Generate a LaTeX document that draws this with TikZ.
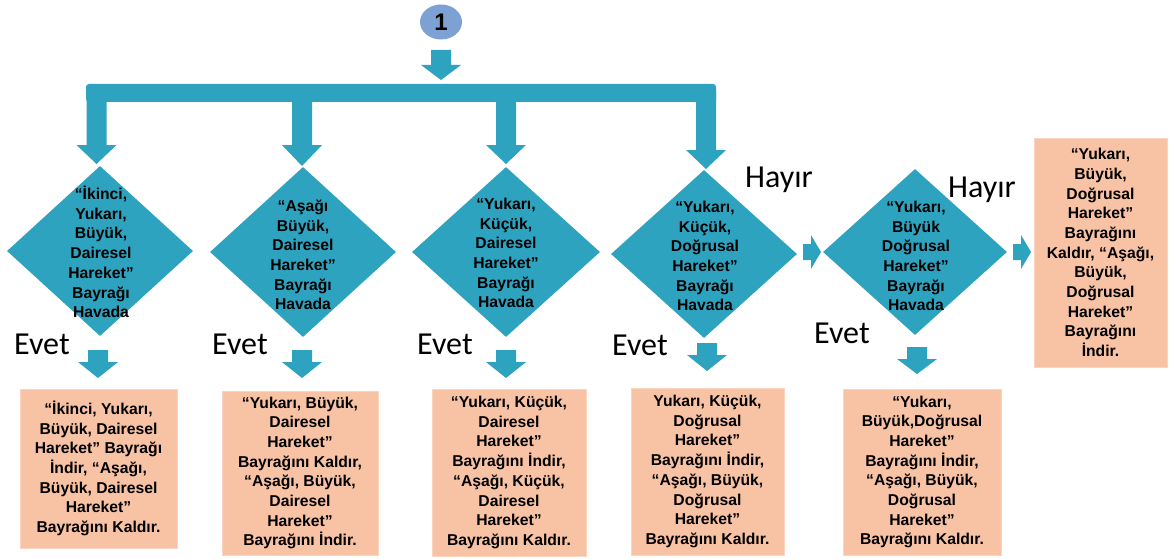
\documentclass[tikz,border=0pt]{standalone}
\usepackage{fontspec}
\setmainfont{Liberation Sans}
\newfontfamily\evfont{Carlito}
\usetikzlibrary{shapes.geometric}
\definecolor{teal}{RGB}{46,163,192}
\definecolor{peach}{RGB}{248,194,164}
\definecolor{circ}{RGB}{124,161,210}
\newcommand\DArr[4]{% x, ytop, yhead, ytip
  \fill[teal] ({#1-10},#2) -- ({#1+10},#2) -- ({#1+10},#3) -- ({#1+20},#3) -- (#1,#4) -- ({#1-20},#3) -- ({#1-10},#3) -- cycle;}
\newcommand\RArr[4]{% xleft, xhead, xtip, ycenter
  \fill[teal] (#1,{#4-8}) -- (#2,{#4-8}) -- (#2,{#4-17}) -- (#3,#4) -- (#2,{#4+17}) -- (#2,{#4+8}) -- (#1,{#4+8}) -- cycle;}
\tikzset{
  dia/.style={diamond, fill=teal, inner sep=0pt, minimum width=186pt, minimum height=170pt},
  dtext/.style={align=center, inner sep=0pt, font=\fontsize{15.7}{19.7}\selectfont\bfseries},
  box/.style={rectangle, fill=peach, draw=peach!70!white, line width=0.8pt, align=center, inner sep=0pt,
    font=\fontsize{15.7}{19.7}\selectfont\bfseries},
  lab/.style={anchor=base west, inner sep=0pt, font=\evfont\fontsize{32}{32}\selectfont},
}
\begin{document}
\begin{tikzpicture}[x=1pt,y=-1pt]
\useasboundingbox (0,0) rectangle (1169,559);
\fill[white] (0,0) rectangle (1169,559);

% start node
\node[ellipse, fill=circ, minimum width=42pt, minimum height=35pt, inner sep=0pt] (one) at (441,22)
  {\fontsize{24}{24}\selectfont\bfseries 1};
\DArr{441}{50}{65}{80}

% distribution bar
\fill[teal, rounded corners=3pt] (86,84) rectangle (716,102);
\DArr{96.5}{92}{145}{164}
\DArr{302}{98}{145}{166}
\DArr{506}{98}{145}{164}
\DArr{706}{92}{150}{169}

% decisions
\node[dia] (d1) at (100,251) {};
\node[dia] (d2) at (303,252) {};
\node[dia, minimum width=188pt] (d3) at (506,252) {};
\node[dia, minimum height=168pt] (d4) at (704,254) {};
\node[dia, minimum width=184pt, minimum height=166pt] (d5) at (915,252) {};

\node[dtext] (t1) at (101,252) {“İkinci,\\Yukarı,\\Büyük,\\Dairesel\\Hareket”\\Bayrağı\\Havada};
\node[dtext] (t2) at (303,255) {“Aşağı\\Büyük,\\Dairesel\\Hareket”\\Bayrağı\\Havada};
\node[dtext] (t3) at (506,253) {“Yukarı,\\Küçük,\\Dairesel\\Hareket”\\Bayrağı\\Havada};
\node[dtext] (t4) at (705,256) {“Yukarı,\\Küçük,\\Doğrusal\\Hareket”\\Bayrağı\\Havada};
\node[dtext] (t5) at (916,256) {“Yukarı,\\Büyük\\Doğrusal\\Hareket”\\Bayrağı\\Havada};

% no-branches
\RArr{803}{811}{821}{252}
\RArr{1013}{1021}{1031}{252}
\node[lab] (h1) at (745,187) {Hayır};
\node[lab] (h2) at (948,197) {Hayır};

% yes-branches
\node[lab] (e1) at (14,354) {Evet};
\node[lab] (e2) at (212,354) {Evet};
\node[lab] (e3) at (417,354) {Evet};
\node[lab] (e4) at (612,355) {Evet};
\node[lab] (e5) at (814,343) {Evet};
\DArr{98}{350}{362}{378}
\DArr{302}{350}{362}{378}
\DArr{506}{350}{362}{378}
\DArr{707}{343}{355}{371}
\DArr{917}{347}{359}{374}

% actions
\node[box, minimum width=157pt, minimum height=159pt] (b1) at (98.5,468.5)
  {“İkinci, Yukarı,\\Büyük, Dairesel\\Hareket” Bayrağı\\İndir, “Aşağı,\\Büyük, Dairesel\\Hareket”\\Bayrağını Kaldır.};
\node[box, minimum width=156pt, minimum height=164pt] (b2) at (300,473)
  {“Yukarı, Büyük,\\Dairesel\\Hareket”\\Bayrağını Kaldır,\\“Aşağı, Büyük,\\Dairesel\\Hareket”\\Bayrağını İndir.};
\node[box, minimum width=154pt, minimum height=167pt] (b3) at (509,472.5)
  {“Yukarı, Küçük,\\Dairesel\\Hareket”\\Bayrağını İndir,\\“Aşağı, Küçük,\\Dairesel\\Hareket”\\Bayrağını Kaldır.};
\node[box, minimum width=153pt, minimum height=167pt] (b4) at (707.5,471.5)
  {Yukarı, Küçük,\\Doğrusal\\Hareket”\\Bayrağını İndir,\\“Aşağı, Büyük,\\Doğrusal\\Hareket”\\Bayrağını Kaldır.};
\node[box, minimum width=158pt, minimum height=166pt] (b5) at (922,472)
  {“Yukarı,\\Büyük,Doğrusal\\Hareket”\\Bayrağını İndir,\\“Aşağı, Büyük,\\Doğrusal\\Hareket”\\Bayrağını Kaldır.};
\node[box, minimum width=133pt, minimum height=229pt] (b6) at (1100.5,252.5)
  {“Yukarı,\\Büyük,\\Doğrusal\\Hareket”\\Bayrağını\\Kaldır, “Aşağı,\\Büyük,\\Doğrusal\\Hareket”\\Bayrağını\\İndir.};
\end{tikzpicture}
\end{document}
